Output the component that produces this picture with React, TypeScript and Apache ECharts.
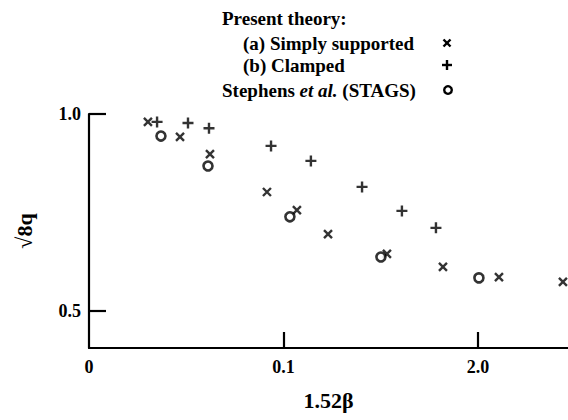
import React, { useEffect, useRef } from "react";
import * as echarts from "echarts";

// Data
const simplyX = [0.303, 0.468, 0.622, 0.915, 1.069, 1.229, 1.532, 1.82, 2.108, 2.437];
const simplyY = [0.98, 0.942, 0.898, 0.802, 0.756, 0.695, 0.645, 0.612, 0.586, 0.574];
const clampedX = [0.35, 0.509, 0.617, 0.936, 1.141, 1.404, 1.609, 1.784];
const clampedY = [0.98, 0.977, 0.964, 0.919, 0.881, 0.815, 0.754, 0.711];
const stagsX = [0.37, 0.612, 1.033, 1.501, 2.005];
const stagsY = [0.944, 0.868, 0.739, 0.637, 0.584];

const xTickValues = [0, 1, 2];
const xTickLabels = ["0", "0.1", "2.0"];
const yTickValues = [0.5, 1.0];
const yTickLabels = ["0.5", "1.0"];

const legendTitle = "Present theory:";
const legendA = "(a) Simply supported";
const legendB = "(b) Clamped";

const FONT = "'Liberation Serif', 'DejaVu Serif', serif";
const CROSS = "path://M0,0L10,10M10,0L0,10";
const PLUS = "path://M5,0L5,10M0,5L10,5";

function zip(xs: number[], ys: number[]) {
  return xs.map((x, i) => [x, ys[i]]);
}

export default function App() {
  const ref = useRef<HTMLDivElement>(null);
  useEffect(() => {
    if (!ref.current) return;
    const chart = echarts.init(ref.current, null, { renderer: "svg" });
    const textStyle = {
      fontFamily: FONT,
      fontWeight: "bold",
      fontSize: 19,
      fill: "#000",
      align: "left",
      verticalAlign: "middle",
    };
    const lx = 447;
    const sw = 2.4;
    chart.setOption({
      animation: false,
      backgroundColor: "#fff",
      grid: { left: 89, right: 0, top: 114, bottom: 72, containLabel: false },
      xAxis: {
        type: "value",
        min: 0,
        max: 2.463,
        axisLine: { show: true, lineStyle: { color: "#000", width: 2.2 } },
        axisTick: { show: true, inside: true, length: 16, customValues: [1, 2], lineStyle: { color: "#000", width: 2.2 } },
        axisLabel: {
          customValues: xTickValues,
          formatter: (v: number) => xTickLabels[xTickValues.indexOf(v)] ?? "",
          color: "#000",
          fontFamily: FONT,
          fontWeight: "bold",
          fontSize: 18,
          margin: 10,
        },
        splitLine: { show: false },
        name: "1.52β",
        nameLocation: "middle",
        nameGap: 41,
        nameTextStyle: { color: "#000", fontFamily: FONT, fontWeight: "bold", fontSize: 22 },
      },
      yAxis: {
        type: "value",
        min: 0.406,
        max: 1.0,
        axisLine: { show: true, lineStyle: { color: "#000", width: 2.2 } },
        axisTick: { show: true, inside: true, length: 17, customValues: yTickValues, lineStyle: { color: "#000", width: 2.2 } },
        axisLabel: {
          customValues: yTickValues,
          formatter: (v: number) => yTickLabels[yTickValues.indexOf(v)] ?? "",
          color: "#000",
          fontFamily: FONT,
          fontWeight: "bold",
          fontSize: 18,
          margin: 8,
        },
        splitLine: { show: false },
        name: "√8q",
        nameLocation: "middle",
        nameGap: 54,
        nameRotate: 90,
        nameTextStyle: { color: "#000", fontFamily: FONT, fontWeight: "bold", fontSize: 22 },
      },
      series: [
        {
          name: legendA,
          type: "scatter",
          data: zip(simplyX, simplyY),
          symbol: CROSS,
          symbolSize: 8,
          itemStyle: { color: "transparent", borderColor: "#000", borderWidth: sw },
          emphasis: { disabled: true },
        },
        {
          name: legendB,
          type: "scatter",
          data: zip(clampedX, clampedY),
          symbol: PLUS,
          symbolSize: 11,
          itemStyle: { color: "transparent", borderColor: "#000", borderWidth: sw },
          emphasis: { disabled: true },
        },
        {
          name: "Stephens et al. (STAGS)",
          type: "scatter",
          data: zip(stagsX, stagsY),
          symbol: "circle",
          symbolSize: 9,
          itemStyle: { color: "#fff", borderColor: "#000", borderWidth: 2.6 },
          emphasis: { disabled: true },
        },
      ],
      graphic: [
        { type: "text", x: 222, y: 18, style: { ...textStyle, text: legendTitle } },
        { type: "text", x: 243, y: 43, style: { ...textStyle, text: legendA } },
        { type: "text", x: 243, y: 65, style: { ...textStyle, text: legendB } },
        {
          type: "text",
          x: 222,
          y: 90,
          style: {
            ...textStyle,
            text: "Stephens {i|et al.} (STAGS)",
            rich: { i: { fontFamily: FONT, fontWeight: "bold", fontStyle: "italic", fontSize: 19, fill: "#000" } },
          },
        },
        { type: "line", shape: { x1: lx - 3.5, y1: 39.5, x2: lx + 3.5, y2: 46.5 }, style: { stroke: "#000", lineWidth: sw } },
        { type: "line", shape: { x1: lx + 3.5, y1: 39.5, x2: lx - 3.5, y2: 46.5 }, style: { stroke: "#000", lineWidth: sw } },
        { type: "line", shape: { x1: lx, y1: 60, x2: lx, y2: 70 }, style: { stroke: "#000", lineWidth: sw } },
        { type: "line", shape: { x1: lx - 5, y1: 65, x2: lx + 5, y2: 65 }, style: { stroke: "#000", lineWidth: sw } },
        { type: "circle", shape: { cx: lx + 1, cy: 90, r: 3.8 }, style: { fill: "#fff", stroke: "#000", lineWidth: 2.4 } },
      ],
    });
    return () => chart.dispose();
  }, []);
  return <div ref={ref} style={{ position: "fixed", left: 0, top: 0, width: 568, height: 420 }} />;
}
